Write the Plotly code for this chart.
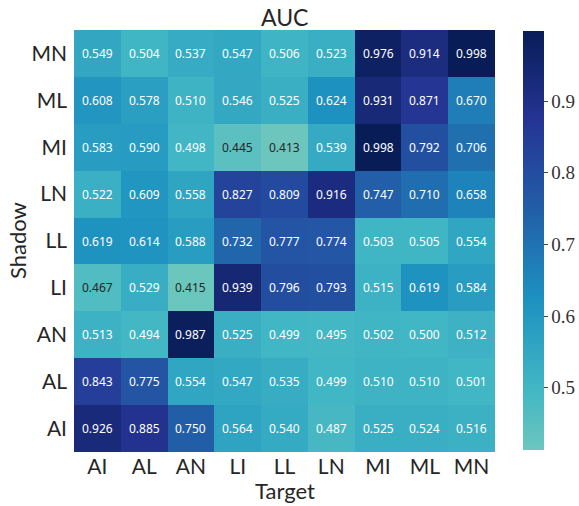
import plotly.graph_objects as go

targets = ["AI", "AL", "AN", "LI", "LL", "LN", "MI", "ML", "MN"]
shadows = ["MN", "ML", "MI", "LN", "LL", "LI", "AN", "AL", "AI"]  # top to bottom
auc = [
    [0.549, 0.504, 0.537, 0.547, 0.506, 0.523, 0.976, 0.914, 0.998],
    [0.608, 0.578, 0.510, 0.546, 0.525, 0.624, 0.931, 0.871, 0.670],
    [0.583, 0.590, 0.498, 0.445, 0.413, 0.539, 0.998, 0.792, 0.706],
    [0.522, 0.609, 0.558, 0.827, 0.809, 0.916, 0.747, 0.710, 0.658],
    [0.619, 0.614, 0.588, 0.732, 0.777, 0.774, 0.503, 0.505, 0.554],
    [0.467, 0.529, 0.415, 0.939, 0.796, 0.793, 0.515, 0.619, 0.584],
    [0.513, 0.494, 0.987, 0.525, 0.499, 0.495, 0.502, 0.500, 0.512],
    [0.843, 0.775, 0.554, 0.547, 0.535, 0.499, 0.510, 0.510, 0.501],
    [0.926, 0.885, 0.750, 0.564, 0.540, 0.487, 0.525, 0.524, 0.516],
]
colorbar_ticks = [0.5, 0.6, 0.7, 0.8, 0.9]
center = 0.5

# matplotlib YlGnBu nodes
ylgnbu = ["#ffffd9", "#edf8b1", "#c7e9b4", "#7fcdbb", "#41b6c4",
          "#1d91c0", "#225ea8", "#253494", "#081d58"]


def hex2rgb(h):
    return tuple(int(h[i:i + 2], 16) for i in (1, 3, 5))


nodes = [(i / (len(ylgnbu) - 1), hex2rgb(c)) for i, c in enumerate(ylgnbu)]


def cmap(f):
    f = min(max(f, 0.0), 1.0)
    for (p0, c0), (p1, c1) in zip(nodes[:-1], nodes[1:]):
        if p0 <= f <= p1:
            t = (f - p0) / (p1 - p0) if p1 > p0 else 0
            return tuple(c0[k] + (c1[k] - c0[k]) * t for k in range(3))
    return nodes[-1][1]


flat = [v for row in auc for v in row]
zmin, zmax = min(flat), max(flat)
vrange = max(zmax - center, center - zmin)
lo, hi = center - vrange, center + vrange
cmin, cmax = (zmin - lo) / (hi - lo), (zmax - lo) / (hi - lo)


def value_to_frac(v):
    return cmin + (v - zmin) / (zmax - zmin) * (cmax - cmin)


stops = [cmin] + [p for p, _ in nodes if cmin < p < cmax] + [cmax]
colorscale = []
for f in stops:
    pos = (f - cmin) / (cmax - cmin)
    r, g, b = cmap(f)
    colorscale.append([pos, f"rgb({r:.0f},{g:.0f},{b:.0f})"])


def lum(rgb):
    out = []
    for c in rgb:
        c = c / 255
        out.append(c / 12.92 if c <= 0.03928 else ((c + 0.055) / 1.055) ** 2.4)
    return 0.2126 * out[0] + 0.7152 * out[1] + 0.0722 * out[2]


W, H = 579, 506
L, R, T, B = 74, 84, 30, 54
plot_w, plot_h = W - L - R, H - T - B

fig = go.Figure(go.Heatmap(
    z=auc, x=targets, y=shadows, zmin=zmin, zmax=zmax,
    colorscale=colorscale, xgap=0, ygap=0,
    colorbar=dict(
        thickness=21, thicknessmode="pixels", len=419, lenmode="pixels",
        x=(523 - L) / plot_w, xanchor="left", xref="paper",
        y=(H - B - 240.5) / plot_h, yanchor="middle", yref="paper",
        outlinewidth=0, xpad=0, ypad=0,
        tickvals=colorbar_ticks, ticktext=[f"{t:.1f}" for t in colorbar_ticks],
        ticks="outside", ticklen=4, tickwidth=1, tickcolor="#444",
        tickfont=dict(family="Liberation Serif", size=19, color="#333"),
    ),
    hoverinfo="skip",
))

for i, s in enumerate(shadows):
    for j, t in enumerate(targets):
        v = auc[i][j]
        col = "#262626" if lum(cmap(value_to_frac(v))) > 0.408 else "white"
        fig.add_annotation(x=t, y=s, text=f"{v:.3f}", showarrow=False,
                           font=dict(family="Noto Sans", size=12, color=col))

label_font = dict(family="Lato", size=22, color="#262626")
# axis titles and chart title
fig.add_annotation(text="Target", xref="paper", yref="paper", x=0.5, y=0,
                   xanchor="center", yanchor="middle", yshift=-(490 - (H - B)),
                   showarrow=False, font=label_font)
fig.add_annotation(text="Shadow", xref="paper", yref="paper", x=0, y=0.5,
                   xanchor="center", yanchor="middle", xshift=-(L - 17), textangle=-90,
                   showarrow=False, font=label_font)
fig.add_annotation(text="AUC", xref="paper", yref="paper", x=0.5, y=1,
                   xanchor="center", yanchor="middle", yshift=T - 17,
                   showarrow=False, font=dict(family="Lato", size=23, color="#262626"))

fig.update_layout(
    width=W, height=H,
    margin=dict(l=L, r=R, t=T, b=B, autoexpand=False),
    paper_bgcolor="white", plot_bgcolor="white",
    xaxis=dict(tickfont=dict(family="Lato", size=21, color="#262626"),
               showgrid=False, zeroline=False, ticks="", showline=False,
               automargin=False),
    yaxis=dict(tickfont=dict(family="Lato", size=21, color="#262626"),
               autorange="reversed", showgrid=False, zeroline=False, ticks="",
               showline=False, automargin=False, ticklabelstandoff=6),
)

fig.write_html("out.html", config={"displayModeBar": False},
               post_script="document.body.style.margin='0';")
